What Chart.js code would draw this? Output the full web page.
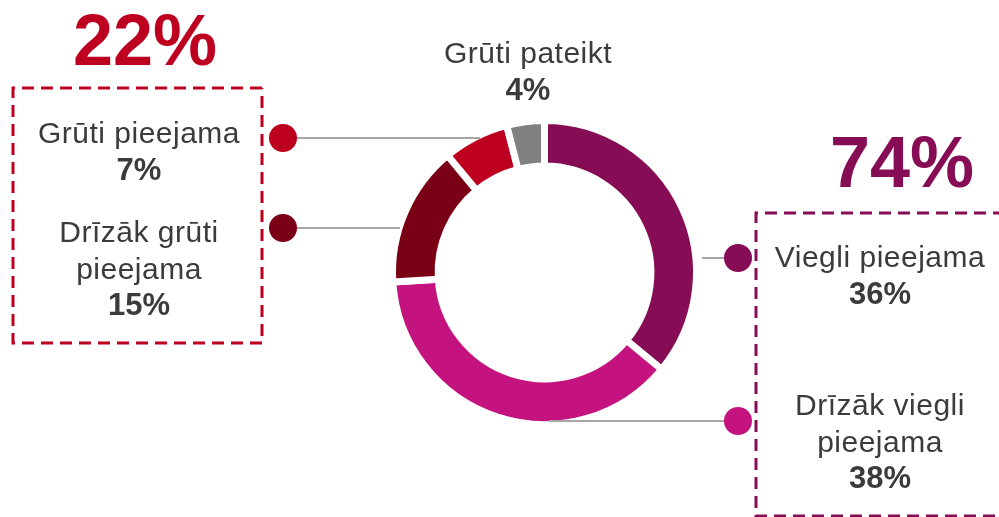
<!DOCTYPE html>
<html>
<head>
<meta charset="utf-8">
<script src="https://cdn.jsdelivr.net/npm/chart.js@4"></script>
<style>
    html, body { margin: 0; padding: 0; background: #ffffff; }
    #wrap { position: relative; width: 999px; height: 517px; }
</style>
</head>
<body>
<div id="wrap"><canvas id="chart-donut"></canvas></div>
<script>
// Données (lecture du graphique)
const labels = ['Viegli pieejama', 'Drīzāk viegli pieejama', 'Drīzāk grūti pieejama', 'Grūti pieejama', 'Grūti pateikt'];
const values = [36, 38, 15, 7, 4];
const colors = ['#850c55', '#c4127f', '#7a0016', '#be0020', '#808080'];
const easyIdx = [0, 1];
const hardIdx = [2, 3];

const textColor = '#3b3b3b';
const lineColor = '#a6a6a6';
const fontFam = '"Liberation Sans", Arial, sans-serif';

const sum = (idx) => idx.reduce((a, i) => a + values[i], 0);

// label lines + positions (layout only)
const notes = [
    { i: 0, lines: ['Viegli pieejama'], x: 880, y: 267, dot: [738, 258], from: [702, 258] },
    { i: 1, lines: ['Drīzāk viegli', 'pieejama'], x: 880, y: 415, dot: [738, 421], from: [549, 421] },
    { i: 2, lines: ['Drīzāk grūti', 'pieejama'], x: 139, y: 242, dot: [283, 228], from: [400, 228] },
    { i: 3, lines: ['Grūti pieejama'], x: 139, y: 143, dot: [283, 138], from: [480, 138] },
    { i: 4, lines: ['Grūti pateikt'], x: 528, y: 63 },
];

function dashedPath(ctx, pts, color) {
    ctx.save();
    ctx.strokeStyle = color;
    ctx.lineWidth = 3;
    ctx.setLineDash([12, 7]);
    ctx.beginPath();
    ctx.moveTo(pts[0][0], pts[0][1]);
    pts.slice(1).forEach((p) => ctx.lineTo(p[0], p[1]));
    ctx.stroke();
    ctx.restore();
}

const annotations = {
    id: 'annotations',
    afterDraw(chart) {
        const ctx = chart.ctx;
        ctx.save();

        // cadres pointillés
        dashedPath(ctx, [[262, 88], [13, 88], [13, 343], [262, 343], [262, 88]], colors[3]);
        dashedPath(ctx, [[1005, 213], [756, 213], [756, 516], [1005, 516]], colors[0]);

        // totaux
        ctx.textAlign = 'center';
        ctx.textBaseline = 'alphabetic';
        ctx.font = `bold 72px ${fontFam}`;
        ctx.fillStyle = colors[3];
        ctx.fillText(`${sum(hardIdx)}%`, 145, 65);
        ctx.fillStyle = colors[0];
        ctx.fillText(`${sum(easyIdx)}%`, 902, 187);

        notes.forEach((n) => {
            if (n.dot) {
                ctx.strokeStyle = lineColor;
                ctx.lineWidth = 2;
                ctx.beginPath();
                ctx.moveTo(n.from[0], n.from[1]);
                ctx.lineTo(n.dot[0], n.dot[1]);
                ctx.stroke();
                ctx.fillStyle = colors[n.i];
                ctx.beginPath();
                ctx.arc(n.dot[0], n.dot[1], 14, 0, Math.PI * 2);
                ctx.fill();
            }
            ctx.fillStyle = textColor;
            ctx.font = `30px ${fontFam}`;
            ctx.letterSpacing = '0.5px';
            let y = n.y;
            n.lines.forEach((t) => {
                ctx.fillText(t, n.x, y);
                y += 36.5;
            });
            ctx.letterSpacing = '0px';
            ctx.font = `bold 31px ${fontFam}`;
            ctx.fillText(`${values[n.i]}%`, n.x, y);
        });

        ctx.restore();
    },
};

const ctx = document.getElementById('chart-donut').getContext('2d');
new Chart(ctx, {
    type: 'doughnut',
    data: {
        labels: labels,
        datasets: [
            {
                data: values,
                backgroundColor: colors,
                borderColor: '#ffffff',
                borderWidth: 7,
                borderJoinStyle: 'miter',
                hoverOffset: 0,
            },
        ],
    },
    options: {
        responsive: true,
        maintainAspectRatio: false,
        animation: false,
        cutout: '70%',
        layout: { padding: { left: 389, right: 299, top: 117, bottom: 89 } },
        plugins: {
            legend: { display: false },
            tooltip: { enabled: false },
        },
    },
    plugins: [annotations],
});
</script>
</body>
</html>
